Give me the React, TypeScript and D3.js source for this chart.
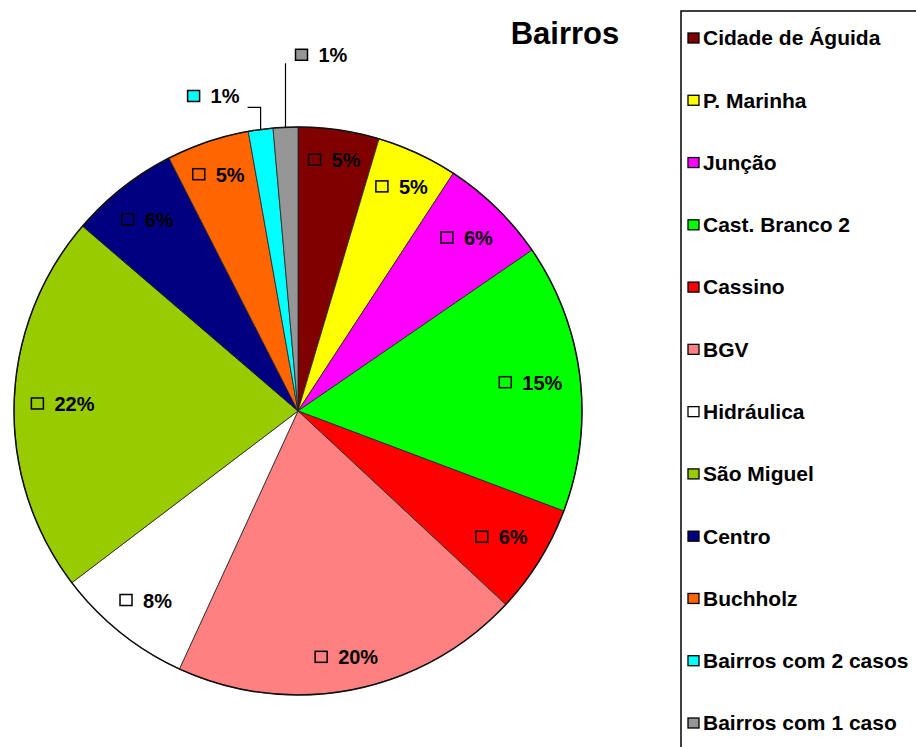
import React from "react";
import * as d3 from "d3";

const categories = [
  "Cidade de Águida",
  "P. Marinha",
  "Junção",
  "Cast. Branco 2",
  "Cassino",
  "BGV",
  "Hidráulica",
  "São Miguel",
  "Centro",
  "Buchholz",
  "Bairros com 2 casos",
  "Bairros com 1 caso",
];
const values = [4.6, 4.6, 6.2, 15.3, 6.2, 19.9, 7.8, 21.6, 6.2, 4.7, 1.4, 1.4];
const colors = [
  "#800000",
  "#ffff00",
  "#ff00ff",
  "#00ff00",
  "#ff0000",
  "#ff8080",
  "#ffffff",
  "#99cc00",
  "#000080",
  "#ff6600",
  "#00ffff",
  "#969696",
];
const title = "Bairros";

const W = 916;
const H = 747;
const cx = 298;
const cy = 411;
const R = 284;
const FONT = "'Liberation Sans', Arial, sans-serif";

export default function App() {
  const total = d3.sum(values);
  const pie = d3
    .pie<number>()
    .sort(null)
    .value((d) => d)
    .startAngle(0)
    .endAngle(2 * Math.PI);
  const arcs = pie(values);
  const arc = d3.arc<d3.PieArcDatum<number>>().innerRadius(0).outerRadius(R);
  const pct = (v: number) => `${Math.round((v / total) * 100)}%`;
  const charW = (s: string) =>
    s.split("").reduce((a, c) => a + (c === "%" ? 0.889 : 0.556), 0) * 20;

  const legendY = d3
    .scalePoint<string>()
    .domain(categories)
    .range([38, 723]);

  const insideCount = arcs.length - 2;
  const Rl = 267;
  const boxH = 20;

  return (
    <svg
      width={W}
      height={H}
      style={{ position: "absolute", left: 0, top: 0, background: "#fff" }}
      fontFamily={FONT}
    >
      <g transform={`translate(${cx},${cy})`}>
        {arcs.map((a, i) => (
          <path
            key={i}
            d={arc(a) || ""}
            fill={colors[i]}
            stroke="#222"
            strokeWidth={0.8}
          />
        ))}
        <circle r={R} fill="none" stroke="#111" strokeWidth={1.5} />
        {arcs.slice(0, insideCount).map((a, i) => {
          const mid = (a.startAngle + a.endAngle) / 2;
          const txt = pct(values[i]);
          const w = 12 + 11 + charW(txt);
          const d =
            Rl -
            (Math.abs(Math.sin(mid)) * w) / 2 -
            (Math.abs(Math.cos(mid)) * boxH) / 2;
          const lx = Math.sin(mid) * d;
          const ly = -Math.cos(mid) * d;
          const x0 = lx - w / 2;
          return (
            <g key={i}>
              <rect
                x={x0}
                y={ly - 6}
                width={12}
                height={11}
                fill={colors[i]}
                stroke="#000"
                strokeWidth={1.5}
              />
              <text
                x={x0 + 23}
                y={ly}
                dy="0.35em"
                fontSize={20}
                fontWeight="bold"
                fill="#000"
              >
                {txt}
              </text>
            </g>
          );
        })}
        {arcs.slice(insideCount).map((a, k) => {
          const i = insideCount + k;
          const mid = (a.startAngle + a.endAngle) / 2;
          const ex = Math.sin(mid) * R;
          const ey = -Math.cos(mid) * R;
          const txt = pct(values[i]);
          let pts: [number, number][];
          let mx: number, my: number;
          if (k === 0) {
            pts = [
              [ex, ey],
              [ex, ey - 22],
              [ex - 13, ey - 22],
            ];
            mx = ex - 67;
            my = ey - 33;
          } else {
            pts = [
              [ex, ey],
              [ex, ey - 64],
            ];
            mx = ex + 16;
            my = ey - 72;
          }
          return (
            <g key={i}>
              <path
                d={d3.line()(pts) || ""}
                fill="none"
                stroke="#000"
                strokeWidth={1.2}
              />
              <rect
                x={mx - 6}
                y={my - 6}
                width={12}
                height={11}
                fill={colors[i]}
                stroke="#000"
                strokeWidth={1.5}
              />
              <text
                x={mx + 17}
                y={my}
                dy="0.35em"
                fontSize={20}
                fontWeight="bold"
                fill="#000"
              >
                {txt}
              </text>
            </g>
          );
        })}
      </g>
      <text
        x={565}
        y={44}
        textAnchor="middle"
        fontSize={31}
        fontWeight="bold"
        fill="#000"
      >
        {title}
      </text>
      <rect
        x={681}
        y={11}
        width={400}
        height={900}
        fill="none"
        stroke="#000"
        strokeWidth={1.5}
      />
      {categories.map((c, i) => {
        const y = legendY(c) as number;
        return (
          <g key={c}>
            <rect
              x={688}
              y={y - 5}
              width={11}
              height={10}
              fill={colors[i]}
              stroke="#000"
              strokeWidth={1.3}
            />
            <text
              x={703}
              y={y}
              dy="0.35em"
              fontSize={21}
              fontWeight="bold"
              fill="#000"
            >
              {c}
            </text>
          </g>
        );
      })}
    </svg>
  );
}
